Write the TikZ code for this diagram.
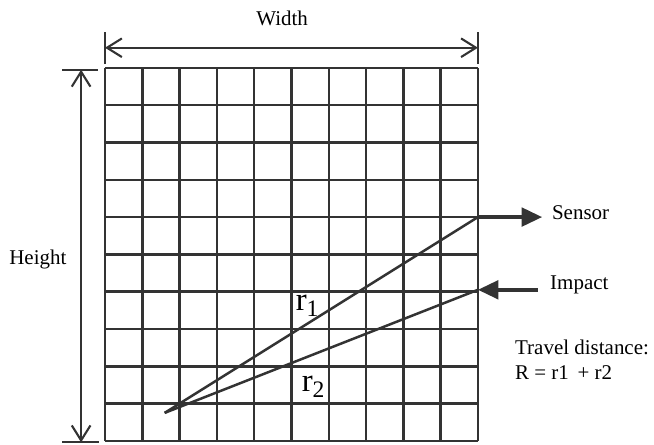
\documentclass[tikz,border=0pt]{standalone}
\usepackage{fontspec}
\setmainfont{Liberation Serif}
\usetikzlibrary{arrows.meta, positioning}

\begin{document}
\begin{tikzpicture}[
  lbl/.style={font=\fontsize{16}{19}\selectfont, inner sep=0pt},
  rlbl/.style={font=\fontsize{25}{27}\selectfont, inner sep=0pt},
  gridline/.style={draw=black!80, line width=1.9pt},
  extline/.style={draw=black!80, line width=1.6pt},
  dimline/.style={{Straight Barb[length=4mm, width=5mm]}-{Straight Barb[length=4mm, width=5mm]}, draw=black!80, line width=1.6pt},
  ray/.style={draw=black!80, line width=1.9pt},
  arrowline/.style={-{Triangle[length=5.5mm, width=5mm]}, draw=black!80, fill=black!80, line width=2.6pt}
]
  \useasboundingbox (-2.815,-0.107) rectangle (14.72,11.82);

  % PLATE
  \draw[gridline] (0,0) grid (10,10);

  % WIDTH
  \coordinate (wl) at (0,10.1);
  \coordinate (wlt) at (0,10.97);
  \coordinate (wr) at (10,10.1);
  \coordinate (wrt) at (10,10.97);
  \coordinate (wa) at (0,10.54);
  \coordinate (wb) at (10,10.54);
  \draw[extline] (wl) -- (wlt);
  \draw[extline] (wr) -- (wrt);
  \draw[dimline] (wa) -- (wb);
  \node[lbl] (width) at (4.75,11.34) {Width};

  % HEIGHT
  \coordinate (ht) at (-1.15,9.95);
  \coordinate (htr) at (-0.19,9.95);
  \coordinate (hb) at (-1.15,-0.04);
  \coordinate (hbr) at (-0.15,-0.04);
  \coordinate (ha) at (-0.64,9.95);
  \coordinate (hz) at (-0.64,-0.04);
  \draw[extline] (ht) -- (htr);
  \draw[extline] (hb) -- (hbr);
  \draw[dimline] (hz) -- (ha);
  \node[lbl] (height) at (-1.8,4.85) {Height};

  % RAYS
  \coordinate (src) at (1.6,0.75);
  \coordinate (sens) at (10,6);
  \coordinate (imp) at (10,4.05);
  \draw[ray] (src) -- (sens);
  \draw[ray] (src) -- (imp);
  \node[rlbl] (r1) at (5.42,3.62) {r\raisebox{-0.35ex}{\fontsize{18}{19}\selectfont 1}};
  \node[rlbl] (r2) at (5.58,1.45) {r\raisebox{-0.35ex}{\fontsize{18}{19}\selectfont 2}};

  % SENSOR / IMPACT
  \node[lbl, anchor=west] (sensor) at (11.98,6.11) {Sensor};
  \node[lbl, anchor=west] (impact) at (11.93,4.18) {Impact};
  \coordinate (stip) at (11.72,6);
  \coordinate (itail) at (11.6,4.05);
  \draw[arrowline] (sens) -- (stip);
  \draw[arrowline] (itail) -- (imp);

  % TRAVEL
  \node[lbl, anchor=north west, align=left] (travel) at (10.99,2.7) {Travel distance:\\R = r1 \,+ r2};

\end{tikzpicture}
\end{document}
